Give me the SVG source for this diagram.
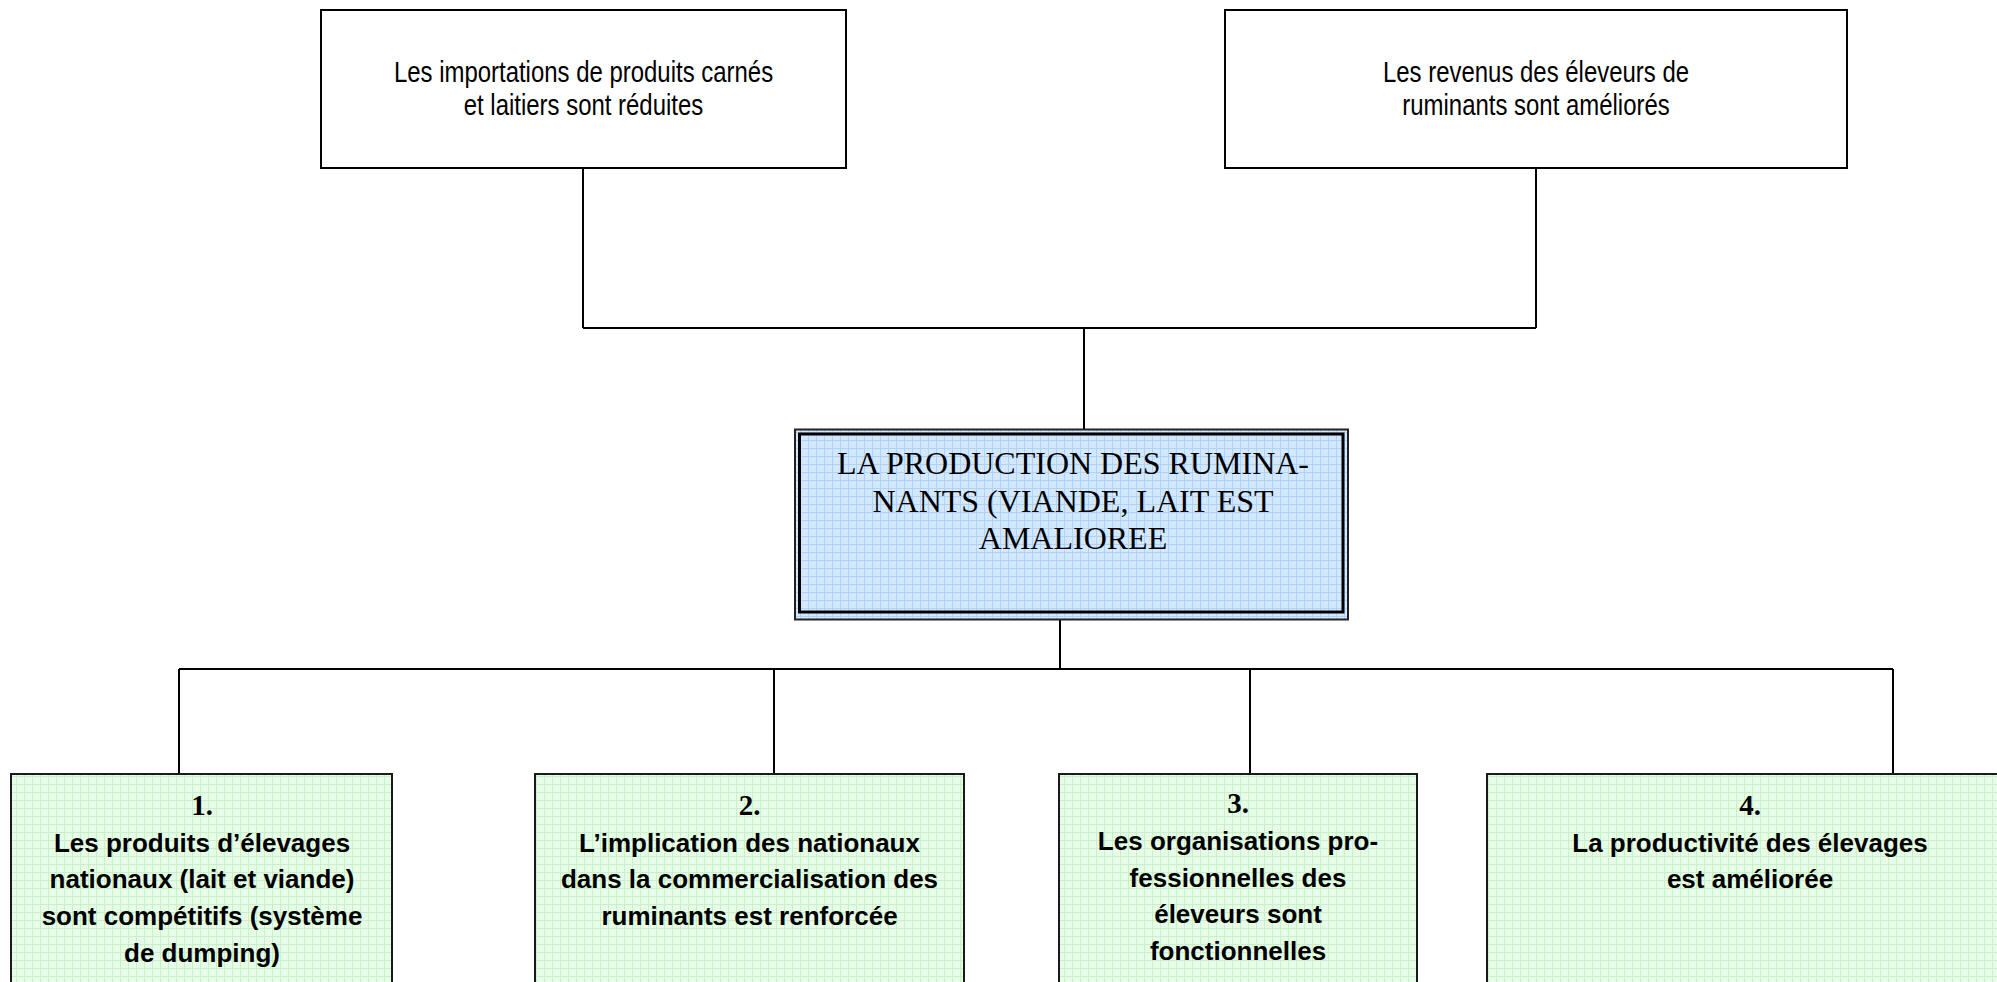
<svg xmlns="http://www.w3.org/2000/svg" width="1997" height="982" viewBox="0 0 1997 982">
<style>
.box{fill:#fff;stroke:#000;stroke-width:2}
.green{fill:url(#gridGreen);stroke:#1a1a1a;stroke-width:2}
.conn{fill:none;stroke:#000;stroke-width:2}
.narrow{font-family:"Liberation Sans",Arial,sans-serif;font-size:29px;fill:#000;text-anchor:middle}
.serif{font-family:"Liberation Serif","Times New Roman",serif;font-size:32px;fill:#000;text-anchor:middle}
.num{font-family:"Liberation Serif","Times New Roman",serif;font-size:29px;font-weight:bold;fill:#000;text-anchor:middle}
.bold{font-family:"Liberation Sans",Arial,sans-serif;font-size:26px;font-weight:bold;fill:#000;text-anchor:middle}
</style>
<defs>
<pattern id="gridBlue" width="8" height="8" patternUnits="userSpaceOnUse">
<rect width="8" height="8" fill="#d3e8fd"/>
<path d="M0 0.5H8M0.5 0V8" stroke="#aed2fa" stroke-width="1"/>
</pattern>
<pattern id="gridGreen" width="8" height="8" patternUnits="userSpaceOnUse">
<rect width="8" height="8" fill="#e6fce6"/>
<path d="M0 0.5H8M0.5 0V8" stroke="#c9f1c9" stroke-width="1"/>
</pattern>
</defs>
<rect width="1997" height="982" fill="#fff"/>
<g id="connectors">
<path class="conn" d="M583 168V328M1536 168V328M583 328H1536M1084 328V429"/>
<path class="conn" d="M1060 619V669M179 669H1893M179 669V774M774 669V774M1250 669V774M1893 669V774"/>
</g>
<g id="node-importations">
<rect class="box" x="321" y="10" width="525" height="158"/>
<text class="narrow" transform="translate(583.5 0) scale(0.826 1)"><tspan x="0" y="82">Les importations de produits carnés</tspan><tspan x="0" y="115">et laitiers sont réduites</tspan></text>
</g>
<g id="node-revenus">
<rect class="box" x="1225" y="10" width="622" height="158"/>
<text class="narrow" transform="translate(1536 0) scale(0.826 1)"><tspan x="0" y="82">Les revenus des éleveurs de</tspan><tspan x="0" y="115">ruminants sont améliorés</tspan></text>
</g>
<g id="node-production">
<rect x="795" y="429.5" width="553" height="190" fill="url(#gridBlue)" stroke="#222" stroke-width="2"/>
<rect x="799.5" y="434" width="543.5" height="178" fill="none" stroke="#000" stroke-width="3"/>
<text class="serif"><tspan x="1073" y="474">LA PRODUCTION DES RUMINA-</tspan><tspan x="1073" y="512">NANTS (VIANDE, LAIT EST</tspan><tspan x="1073" y="549">AMALIOREE</tspan></text>
</g>
<g id="node-1">
<rect class="green" x="11" y="774" width="381" height="220"/>
<text class="num" x="202" y="815">1.</text>
<text class="bold"><tspan x="202" y="852">Les produits d’élevages</tspan><tspan x="202" y="888">nationaux (lait et viande)</tspan><tspan x="202" y="925">sont compétitifs (système</tspan><tspan x="202" y="962">de dumping)</tspan></text>
</g>
<g id="node-2">
<rect class="green" x="535" y="774" width="429" height="220"/>
<text class="num" x="749.5" y="815">2.</text>
<text class="bold"><tspan x="749.5" y="852">L’implication des nationaux</tspan><tspan x="749.5" y="888">dans la commercialisation des</tspan><tspan x="749.5" y="925">ruminants est renforcée</tspan></text>
</g>
<g id="node-3">
<rect class="green" x="1059" y="774" width="358" height="220"/>
<text class="num" x="1238" y="813">3.</text>
<text class="bold"><tspan x="1238" y="850">Les organisations pro-</tspan><tspan x="1238" y="887">fessionnelles des</tspan><tspan x="1238" y="923">éleveurs sont</tspan><tspan x="1238" y="960">fonctionnelles</tspan></text>
</g>
<g id="node-4">
<rect class="green" x="1487" y="774" width="526" height="220"/>
<text class="num" x="1750" y="815">4.</text>
<text class="bold"><tspan x="1750" y="852">La productivité des élevages</tspan><tspan x="1750" y="888">est améliorée</tspan></text>
</g>
</svg>
